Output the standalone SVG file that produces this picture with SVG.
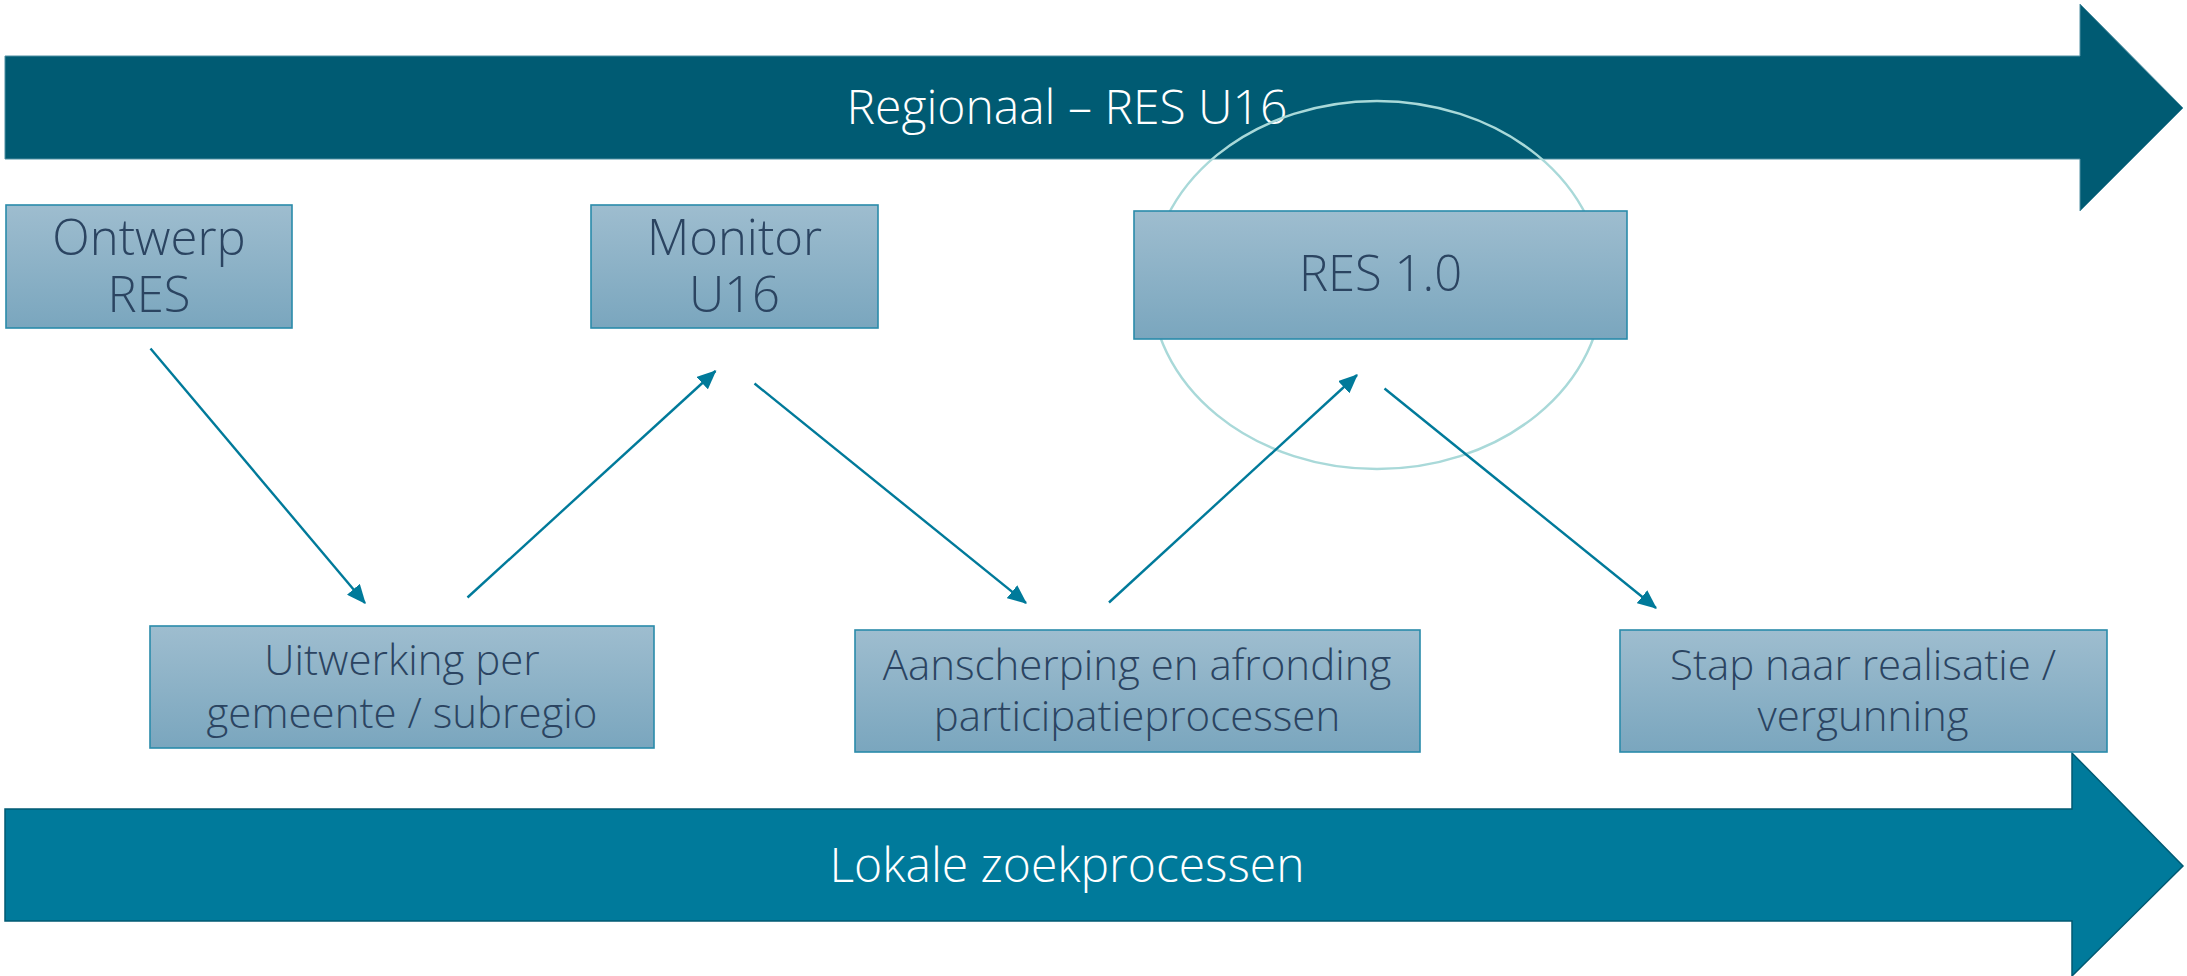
<svg xmlns="http://www.w3.org/2000/svg" width="2187" height="976" viewBox="0 0 2187 976">
<defs>
<linearGradient id="boxGrad" x1="0" y1="0" x2="0" y2="1">
<stop offset="0" stop-color="#9EBDCF"/>
<stop offset="1" stop-color="#7AA6BE"/>
</linearGradient>
<marker id="ah" markerWidth="8" markerHeight="7" refX="7.5" refY="3.5" orient="auto" markerUnits="strokeWidth">
<path d="M0,0 L8,3.5 L0,7 Z" fill="#007A9A"/>
</marker>
</defs>
<style>
.box{fill:url(#boxGrad);stroke:#2A8BAA;stroke-width:1.6}
.lbl{font-family:"Open Sans","Noto Sans","Liberation Sans",sans-serif;font-weight:300;fill:#2B4461;text-anchor:middle}
.big{font-size:49px}
.mid{font-size:42px}
.band{font-family:"Open Sans","Noto Sans","Liberation Sans",sans-serif;font-weight:300;fill:#FFFFFF;text-anchor:middle;font-size:48px}
.conn{stroke:#007A9A;stroke-width:2.4;fill:none;marker-end:url(#ah)}
</style>
<rect width="2187" height="976" fill="#FFFFFF"/>

<g id="band-regionaal">
<path d="M5,56 L2080,56 L2080,4 L2183,108 L2080,211 L2080,159 L5,159 Z" fill="#005B73" stroke="#4E8FA2" stroke-width="1"/>
<text class="band" x="1067" y="124">Regionaal – RES U16</text>
</g>

<g id="band-lokaal">
<path d="M5,809 L2072,809 L2072,753 L2183,866 L2072,976 L2072,921 L5,921 Z" fill="#007A9B" stroke="#005A73" stroke-width="1.5"/>
<text class="band" x="1067" y="882">Lokale zoekprocessen</text>
</g>

<g id="highlight">
<ellipse cx="1377" cy="285" rx="226" ry="184" fill="none" stroke="#A9D9D9" stroke-width="2.5"/>
</g>

<g id="node-ontwerp">
<rect class="box" x="6" y="205" width="286" height="123"/>
<text class="lbl big" x="149" y="255">Ontwerp</text>
<text class="lbl big" x="149" y="312">RES</text>
</g>

<g id="node-monitor">
<rect class="box" x="591" y="205" width="287" height="123"/>
<text class="lbl big" x="734.5" y="255">Monitor</text>
<text class="lbl big" x="734.5" y="312">U16</text>
</g>

<g id="node-res10">
<rect class="box" x="1134" y="211" width="493" height="128"/>
<text class="lbl big" x="1380.5" y="291">RES 1.0</text>
</g>

<g id="node-uitwerking">
<rect class="box" x="150" y="626" width="504" height="122"/>
<text class="lbl mid" x="402" y="675">Uitwerking per</text>
<text class="lbl mid" x="402" y="728">gemeente / subregio</text>
</g>

<g id="node-aanscherping">
<rect class="box" x="855" y="630" width="565" height="122"/>
<text class="lbl mid" x="1137" y="680">Aanscherping en afronding</text>
<text class="lbl mid" x="1137" y="731">participatieprocessen</text>
</g>

<g id="node-stap">
<rect class="box" x="1620" y="630" width="487" height="122"/>
<text class="lbl mid" x="1863" y="680">Stap naar realisatie /</text>
<text class="lbl mid" x="1863" y="731">vergunning</text>
</g>

<g id="connectors">
<line class="conn" x1="150.5" y1="348.5" x2="365" y2="603"/>
<line class="conn" x1="467.5" y1="597.5" x2="715.5" y2="371"/>
<line class="conn" x1="754.5" y1="383.5" x2="1026" y2="603"/>
<line class="conn" x1="1109" y1="602.5" x2="1357" y2="375"/>
<line class="conn" x1="1384.5" y1="388.5" x2="1656" y2="608"/>
</g>
</svg>
